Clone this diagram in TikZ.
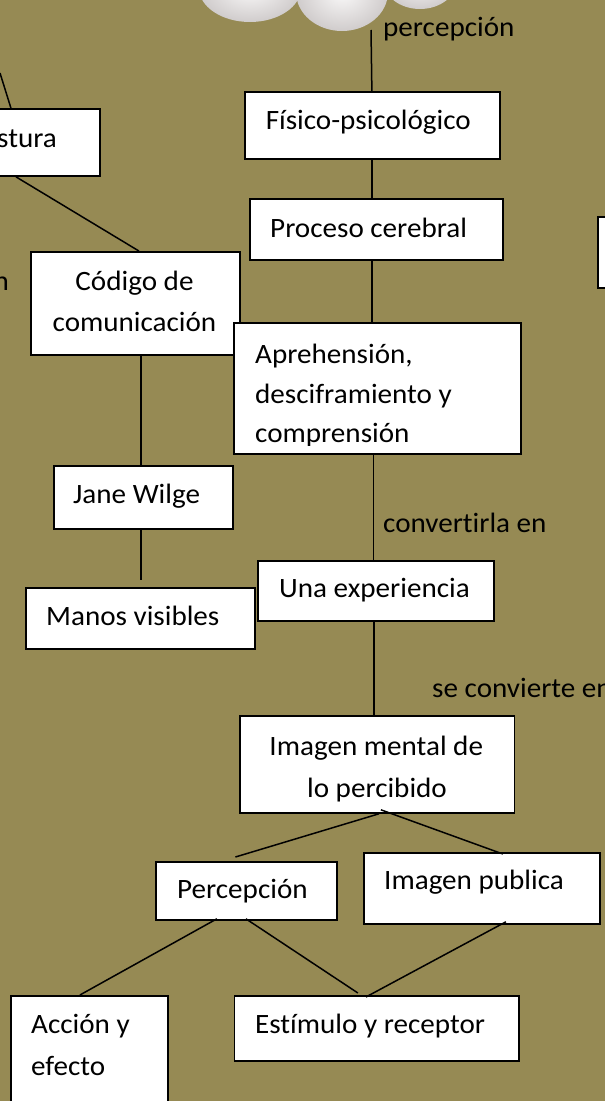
\documentclass[tikz,border=0pt]{standalone}
\usepackage{fontspec}
\setmainfont{Carlito}[FakeStretch=1.04, Ligatures=NoCommon]
\definecolor{olive}{RGB}{150,138,84}
\definecolor{cloudin}{RGB}{250,249,249}
\definecolor{cloudout}{RGB}{208,204,204}
\tikzset{
  box/.style={draw=black, fill=white, line width=1.8pt, inner sep=0pt, anchor=north west},
  txt/.style={inner sep=0pt, anchor=base west, font=\fontsize{28}{41}\selectfont, text=black},
  conn/.style={draw=black, line width=1.5pt},
  lobe/.style={inner color=cloudin, outer color=cloudout}
}
\begin{document}
\begin{tikzpicture}[x=1pt,y=-1pt]
\useasboundingbox (0,0) rectangle (605,1101);
\clip (0,0) rectangle (605,1101);
\fill[olive] (0,0) rectangle (605,1101);

% cloud
\shade[lobe] (250,-12) ellipse [x radius=51, y radius=34];
\shade[lobe] (420,-20) ellipse [x radius=37, y radius=29];
\shade[lobe] (342,-8) ellipse [x radius=46, y radius=39];
\coordinate (cloudb) at (371,30);
\coordinate (sturatop) at (0,73);

% boxes
\node[box, minimum width=109pt, minimum height=67pt] (stura) at (-10,108) {};
\node[box, minimum width=255pt, minimum height=67pt] (fis) at (244,91) {};
\node[box, minimum width=253pt, minimum height=61pt] (proc) at (249,198) {};
\node[box, minimum width=30pt, minimum height=71pt] (rbox) at (597,216) {};
\node[box, minimum width=209pt, minimum height=103pt] (cod) at (30,251) {};
\node[box, minimum width=287pt, minimum height=131pt] (apr) at (233,322) {};
\node[box, minimum width=179pt, minimum height=63pt] (jane) at (53,465) {};
\node[box, minimum width=236pt, minimum height=60pt] (una) at (257,560) {};
\node[box, minimum width=229pt, minimum height=61pt] (manos) at (25,587) {};
\node[box, minimum width=274.5pt, minimum height=97pt] (imm) at (239,715) {};
\node[box, minimum width=181pt, minimum height=58pt] (perc) at (155,861) {};
\node[box, minimum width=236pt, minimum height=71pt] (pub) at (363,852) {};
\node[box, minimum width=157pt, minimum height=130pt] (acc) at (10,995) {};
\node[box, minimum width=284.4pt, minimum height=65pt] (est) at (233.6,995) {};

% connectors
\draw[conn] (cloudb) -- ([xshift=-0.5pt]fis.north);
\draw[conn] ([xshift=-0.5pt]fis.south) -- ([xshift=-4.5pt]proc.north);
\draw[conn] ([xshift=-4.5pt]proc.south) -- ([xshift=-5.5pt]apr.north);
\draw[conn] ([xshift=-4pt]apr.south) -- ([xshift=-2.5pt]una.north);
\draw[conn] ([xshift=-2pt]una.south) -- ([xshift=-3.25pt]imm.north);
\draw[conn] (sturatop) -- ([xshift=-34.5pt]stura.north);
\draw[conn] ([xshift=-29.5pt]stura.south) -- ([xshift=3.5pt]cod.north);
\draw[conn] ([xshift=5.5pt]cod.south) -- ([xshift=-2.5pt]jane.north);
\draw[conn] ([xshift=-2.5pt]jane.south) -- ([xshift=0.5pt,yshift=7pt]manos.north);
\draw[conn] ([xshift=1.75pt]imm.south) -- ([xshift=-11pt,yshift=4pt]perc.north);
\draw[conn] ([xshift=3.75pt,yshift=4pt]imm.south) -- ([xshift=21pt,yshift=-2pt]pub.north);
\draw[conn] ([xshift=-29.5pt,yshift=2pt]perc.south) -- ([xshift=-9.5pt]acc.north);
\draw[conn] ([xshift=-0.5pt,yshift=2pt]perc.south) -- ([xshift=-18.8pt,yshift=2pt]est.north);
\draw[conn] ([xshift=24pt,yshift=3pt]pub.south) -- ([xshift=-10.8pt,yshift=-2pt]est.north);

% texts
\node[txt] (tperc0) at (383,36) {percepción};
\node[txt] (tstura) at (-3,147) {stura};
\node[txt, anchor=base east] (tn) at (9,290) {n};
\node[txt] (tfis) at (265.6,129) {Físico-psicológico};
\node[txt] (tproc) at (270,237) {Proceso cerebral};
\node[txt, anchor=base] (tcod1) at (134.5,290) {Código de};
\node[txt, anchor=base] (tcod2) at (134.5,331) {comunicación};
\begin{scope}
\clip (233,322) rectangle (520,445);
\node[txt] (tapr1) at (255,363) {Aprehensión,};
\node[txt] (tapr2) at (255,403) {desciframiento y};
\node[txt] (tapr3) at (255,442) {comprensión};
\end{scope}
\node[txt] (tjane) at (73,503) {Jane Wilge};
\node[txt] (tconv) at (383,532) {convertirla en};
\node[txt] (tuna) at (279,597) {Una experiencia};
\node[txt] (tmanos) at (46,625) {Manos visibles};
\node[txt] (tse) at (432,697) {se convierte en};
\node[txt, anchor=base] (timm1) at (376.25,755) {Imagen mental de};
\node[txt, anchor=base] (timm2) at (377,797) {lo percibido};
\node[txt] (tpercep) at (177,898) {Percepción};
\node[txt] (tpub) at (384,889) {Imagen publica};
\node[txt] (tacc1) at (31,1033) {Acción y};
\node[txt] (tacc2) at (31,1075) {efecto};
\node[txt] (test) at (255,1033) {Estímulo y receptor};
\end{tikzpicture}
\end{document}
